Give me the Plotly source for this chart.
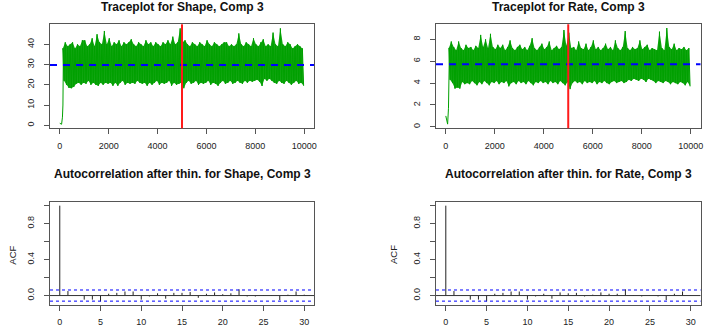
import plotly.graph_objects as go

# ---------------- data ----------------
# burn-in part of the chains (iteration, value)
burn_iter = [1, 40, 75, 110, 130, 150]
shape_burn = [1.0, 0.8, 0.5, 4.0, 10.0, 37.0]
rate_burn = [1.0, 0.6, 0.25, 1.7, 4.5, 7.2]

# per-100-iteration block extremes of the chains (blocks start at 100, 200, ..., 9900)
block_start = list(range(100, 10000, 100))
shape_hi = [38, 41, 39, 40, 41, 38, 40, 39, 42, 42, 39, 40, 43, 39, 45, 41, 40, 46.6, 40, 43,
            39, 41, 40, 42, 39, 41, 40, 41, 42.5, 40, 39, 41, 40, 39, 42, 40, 41, 39, 41, 40,
            39, 41, 40, 42, 40, 43.8, 40, 41, 47.9, 41, 42, 40, 39, 41, 40, 39, 41, 40, 39, 42,
            40, 39, 41, 40, 39, 40, 41, 41, 39, 40, 39, 40, 45.4, 40, 39, 41, 40, 39, 43, 40,
            39, 41, 42.5, 39, 40, 39, 45.8, 40, 39, 47.9, 40, 39, 41, 40, 38, 39, 40, 39, 38]
shape_lo = [22, 20, 18.5, 18.3, 19, 20.5, 21, 20, 21, 20.5, 22, 20, 21, 20, 19.5, 21, 20, 21, 20.5, 21,
            19.5, 21, 19.5, 21, 22, 20, 21, 20.5, 21, 20.5, 22, 21, 20.5, 21, 19.5, 21, 20, 21, 22, 20,
            21, 20.5, 21, 22, 19.5, 21, 20, 20.5, 21, 18.3, 21, 22, 20.5, 21, 22, 20, 21, 20.5, 21, 22,
            20, 21, 20.5, 19.5, 21, 22, 20.5, 21, 22, 20.5, 21, 22, 21, 20.5, 22, 21, 22, 21.5, 22, 22.5,
            21.5, 19.4, 23, 22, 23, 22, 21, 20.5, 22, 21, 20.5, 22, 21, 20, 21, 22, 20.5, 21, 19.5]
rate_hi = [7.2, 7.8, 7.3, 7.0, 7.8, 7.2, 7.0, 7.5, 7.2, 7.3, 7.0, 7.4, 7.2, 8.4, 7.3, 8.0, 7.2, 8.5, 7.3, 7.1,
           7.5, 7.2, 7.5, 7.0, 7.3, 7.9, 7.2, 7.0, 7.3, 7.5, 7.1, 7.3, 7.0, 7.4, 8.1, 7.2, 7.0, 7.3, 7.6, 7.1,
           7.3, 7.8, 7.0, 7.2, 7.4, 7.1, 7.3, 8.85, 7.4, 8.6, 7.2, 7.3, 7.0, 7.8, 7.2, 7.1, 7.6, 7.0, 7.3, 7.9,
           7.1, 7.3, 7.0, 7.2, 7.6, 7.1, 7.3, 7.0, 7.9, 7.2, 7.0, 7.3, 8.75, 7.2, 7.0, 7.3, 7.1, 7.2, 7.9, 7.1,
           7.3, 7.5, 7.0, 7.2, 7.1, 7.0, 8.7, 7.2, 7.0, 9.03, 7.3, 7.1, 7.6, 7.0, 7.2, 7.1, 7.3, 7.0, 7.2]
rate_lo = [4.3, 4.0, 3.5, 3.6, 3.5, 4.1, 3.9, 4.0, 3.9, 4.2, 4.0, 3.8, 4.1, 3.9, 4.2, 4.0, 3.8, 4.1, 4.0, 4.2,
           3.9, 4.1, 4.0, 4.2, 3.7, 4.0, 4.1, 3.9, 4.2, 4.0, 4.1, 3.9, 4.2, 4.0, 3.8, 4.1, 4.0, 4.2, 4.0, 4.1,
           3.9, 4.2, 4.0, 4.1, 3.9, 4.2, 4.0, 3.8, 4.1, 3.45, 4.0, 4.2, 4.0, 4.1, 3.9, 4.2, 4.0, 4.1, 4.0, 4.2,
           3.9, 4.1, 4.0, 4.2, 4.0, 3.9, 4.1, 4.2, 4.0, 4.1, 4.2, 4.0, 4.1, 4.3, 4.2, 4.4, 4.3, 4.2, 4.4, 4.3,
           4.1, 4.4, 4.3, 4.2, 4.0, 4.2, 4.1, 4.0, 4.2, 4.1, 3.9, 4.1, 4.0, 3.9, 4.1, 4.0, 3.8, 4.1, 3.7]

shape_mean = 29.75
rate_mean = 5.72
burnin_mark = 5000

lags = list(range(31))
acf_shape = [1.0, 0.05, -0.005, -0.045, -0.045, -0.065, 0.02, 0.03, 0.045, 0.045, -0.045,
             -0.01, 0.025, -0.035, 0.03, 0.03, 0.04, -0.025, 0.02, 0.035, 0.015,
             0.025, 0.07, -0.01, -0.01, 0.005, -0.005, -0.05, 0.01, 0.045, 0.01]
acf_rate = [1.0, 0.05, -0.005, -0.045, -0.045, -0.065, 0.02, 0.03, 0.045, 0.045, -0.045,
            -0.01, 0.02, -0.035, 0.035, 0.025, 0.03, -0.01, 0.01, 0.035, 0.02,
            0.02, 0.07, -0.005, -0.01, -0.005, -0.01, -0.05, 0.02, 0.045, 0.005]
acf_ci = 0.062

titles = ["Traceplot for Shape, Comp 3", "Traceplot for Rate, Comp 3",
          "Autocorrelation after thin. for Shape, Comp 3", "Autocorrelation after thin. for Rate, Comp 3"]

# ---------------- styling ----------------
W, H = 706, 331
FONT = "Liberation Sans, Arial, Helvetica, sans-serif"
GREEN = "#00A000"
GREEN_FILL = "#12A612"
AXC = "#555555"

def px(xp):
    return xp / W

def py(yp):
    return 1 - yp / H

xdom_l = [px(50), px(314)]
xdom_r = [px(436), px(700.5)]
ydom_t = [py(128.3), py(24.3)]
ydom_b = [py(305), py(201.7)]

fig = go.Figure()

def band_polygon(hi, lo):
    xs = [s + 25 for s in block_start] + [s + 75 for s in block_start][::-1]
    ys = list(hi) + list(lo)[::-1]
    return xs, ys

def trace_xy(burn_vals, hi, lo):
    xs = list(burn_iter)
    ys = list(burn_vals)
    for s, h, l in zip(block_start, hi, lo):
        xs += [s + 25, s + 75]
        ys += [h, l]
    return xs, ys

for (xa, ya), burn, hi, lo in [(("x", "y"), shape_burn, shape_hi, shape_lo),
                               (("x2", "y2"), rate_burn, rate_hi, rate_lo)]:
    bx, by = band_polygon(hi, lo)
    fig.add_trace(go.Scatter(x=bx, y=by, mode="lines", fill="toself", fillcolor=GREEN_FILL,
                             line=dict(width=0, color=GREEN_FILL), xaxis=xa, yaxis=ya, hoverinfo="skip"))
    tx, ty = trace_xy(burn, hi, lo)
    fig.add_trace(go.Scatter(x=tx, y=ty, mode="lines", line=dict(color=GREEN, width=1),
                             xaxis=xa, yaxis=ya, hoverinfo="skip"))

def acf_xy(vals):
    xs, ys = [], []
    for k, v in zip(lags, vals):
        xs += [k, k, None]
        ys += [0, v, None]
    return xs, ys

ax3, ay3 = acf_xy(acf_shape)
ax4, ay4 = acf_xy(acf_rate)
fig.add_trace(go.Scatter(x=ax3, y=ay3, mode="lines", line=dict(color="#222222", width=1),
                         xaxis="x3", yaxis="y3", hoverinfo="skip"))
fig.add_trace(go.Scatter(x=ax4, y=ay4, mode="lines", line=dict(color="#222222", width=1),
                         xaxis="x4", yaxis="y4", hoverinfo="skip"))

shapes = []
# mean lines and burn-in marks on trace plots
for xa, ya, m in [("x", "y", shape_mean), ("x2", "y2", rate_mean)]:
    shapes.append(dict(type="line", xref=xa + " domain", yref=ya, x0=0, x1=1, y0=m, y1=m,
                       line=dict(color="#0000FF", width=2, dash="7px,6px")))
    shapes.append(dict(type="line", xref=xa, yref=ya + " domain", x0=burnin_mark, x1=burnin_mark,
                       y0=0, y1=1, line=dict(color="#FF1A1A", width=2)))
# zero lines and confidence limits on ACF plots
for xa, ya in [("x3", "y3"), ("x4", "y4")]:
    shapes.append(dict(type="line", xref=xa + " domain", yref=ya, x0=0, x1=1, y0=0, y1=0,
                       line=dict(color="#333333", width=1)))
    for c in (acf_ci, -acf_ci):
        shapes.append(dict(type="line", xref=xa + " domain", yref=ya, x0=0, x1=1, y0=c, y1=c,
                           line=dict(color="#0000FF", width=1, dash="3px,3px")))

def axis(domain, anchor, rng, tickvals, ticktext=None, y=False, standoff=4):
    d = dict(domain=domain, anchor=anchor, range=rng, showgrid=False, zeroline=False,
             showline=True, mirror=True, linecolor=AXC, linewidth=1,
             ticks="outside", ticklen=5, tickwidth=1, tickcolor=AXC,
             tickvals=tickvals, ticktext=ticktext if ticktext else [str(v) for v in tickvals],
             tickfont=dict(family=FONT, size=9, color="#222222"),
             ticklabelstandoff=standoff, fixedrange=True, automargin=False)
    if y:
        d["tickangle"] = -90
    return d

xt_trace = [0, 2000, 4000, 6000, 8000, 10000]
xt_acf = [0, 5, 10, 15, 20, 25, 30]
yt_acf = [0, 0.2, 0.4, 0.6, 0.8, 1.0]
yt_acf_txt = ["0.0", "", "0.4", "", "0.8", ""]

fig.update_layout(
    width=W, height=H, margin=dict(l=0, r=0, t=0, b=0, pad=0),
    paper_bgcolor="white", plot_bgcolor="white", showlegend=False,
    xaxis=axis(xdom_l, "y", [-399, 10400], xt_trace, standoff=4),
    yaxis=axis(ydom_t, "x", [-1.5, 49.9], [0, 10, 20, 30, 40], y=True, standoff=6),
    xaxis2=axis(xdom_r, "y2", [-399, 10400], xt_trace, standoff=4),
    yaxis2=axis(ydom_t, "x2", [-0.13, 9.37], [0, 2, 4, 6, 8], y=True, standoff=6),
    xaxis3=axis(xdom_l, "y3", [-1.2, 31.2], xt_acf, standoff=3),
    yaxis3=axis(ydom_b, "x3", [-0.105, 1.044], yt_acf, yt_acf_txt, y=True, standoff=6),
    xaxis4=axis(xdom_r, "y4", [-1.2, 31.2], xt_acf, standoff=3),
    yaxis4=axis(ydom_b, "x4", [-0.105, 1.044], yt_acf, yt_acf_txt, y=True, standoff=6),
    shapes=shapes,
)

annos = []
title_pos = [((50 + 314) / 2, 7), ((436 + 700.5) / 2, 7), ((50 + 314) / 2, 173.5), ((436 + 700.5) / 2, 173.5)]
for t, (cx, cy) in zip(titles, title_pos):
    annos.append(dict(text="<b>" + t + "</b>", x=px(cx), y=py(cy), xref="paper", yref="paper",
                      xanchor="center", yanchor="middle", showarrow=False,
                      font=dict(family=FONT, size=12, color="#111111")))
for cx in (11.7, 393):
    annos.append(dict(text="ACF", x=px(cx), y=py(255), xref="paper", yref="paper",
                      xanchor="center", yanchor="middle", showarrow=False, textangle=-90,
                      font=dict(family=FONT, size=9.5, color="#222222")))
fig.update_layout(annotations=annos)

fig.write_html("out.html", config={"displayModeBar": False, "staticPlot": True},
               post_script="document.body.style.margin='0';document.body.style.padding='0';"
                           "document.documentElement.style.overflow='hidden';")
